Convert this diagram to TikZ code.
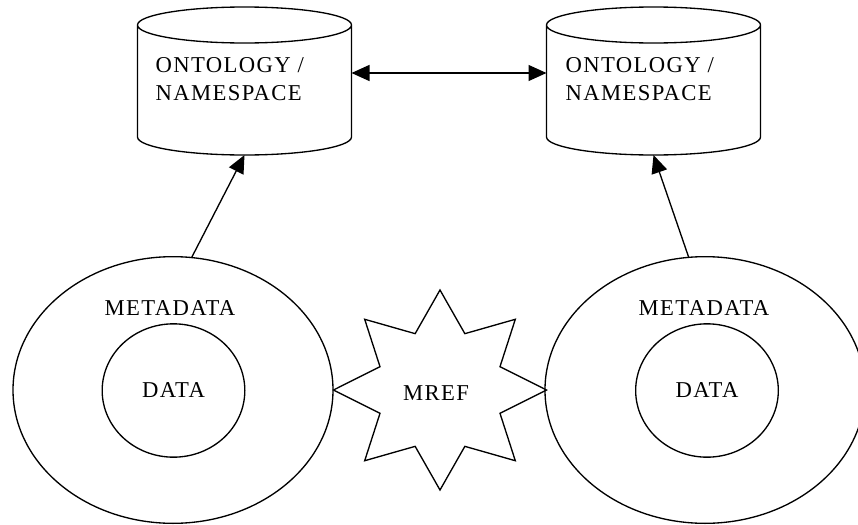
\documentclass[tikz,border=0pt]{standalone}
\usepackage{fontspec}
\setmainfont{Liberation Serif}[LetterSpace=6]
\usetikzlibrary{shapes.geometric,arrows.meta}

\begin{document}
\begin{tikzpicture}[x=0.75pt,y=-0.75pt,line width=1pt,
	>={Triangle[length=13.5pt,width=12pt]},
	every node/.style={font=\fontsize{17}{21}\selectfont},
	db/.style={rectangle,minimum width=160.5pt,minimum height=111pt,inner sep=0pt,outer sep=0pt},
	metaring/.style={draw,ellipse,minimum width=240pt,minimum height=200pt,inner sep=0pt,outer sep=0pt},
	datacore/.style={draw,ellipse,minimum width=107pt,minimum height=100pt,inner sep=0pt,outer sep=0pt},
	burst/.style={draw,star,star points=8,star point ratio=1.64,minimum size=150pt,xscale=1.065,inner sep=0pt,outer sep=0pt}]
	\newcommand{\RX}{80.25pt}
	\newcommand{\RY}{13.5pt}
	\useasboundingbox (0,0) rectangle (858,525);
	\node[db](ontL) at (244.5,81){};
	\node[db](ontR) at (653.5,81){};
	% cylinder outlines round the two stores
	\foreach \n in {ontL,ontR}
		\draw ([yshift=-\RY]\n.north west) -- ([yshift=\RY]\n.south west)
			arc[start angle=180,end angle=360,x radius=\RX,y radius=\RY]
			-- ([yshift=-\RY]\n.north east)
			arc[start angle=0,end angle=180,x radius=\RX,y radius=\RY]
			arc[start angle=180,end angle=360,x radius=\RX,y radius=\RY];
	\node[anchor=base west,align=left,inner sep=0pt](txtL) at (155,100){ONTOLOGY /\\NAMESPACE};
	\node[anchor=base west,align=left,inner sep=0pt](txtR) at (565,100){ONTOLOGY /\\NAMESPACE};
	\node[metaring](metaL) at (173,390){};
	\node[metaring](metaR) at (705,390){};
	\node(mtxtL) at (170,308){METADATA};
	\node(mtxtR) at (704,308){METADATA};
	\node[datacore](dataL) at (173.5,390.5){DATA};
	\node[datacore](dataR) at (707,390.5){DATA};
	\node[burst](mref) at (440,390){};
	\node(mtxt) at (436,393){MREF};
	\draw [<->] ([yshift=6pt]ontL.east) -- ([yshift=6pt]ontR.west);
	\draw [->] (metaL.82) -- (ontL.south);
	\draw [->] (metaR.97) -- (ontR.south);
\end{tikzpicture}
\end{document}
